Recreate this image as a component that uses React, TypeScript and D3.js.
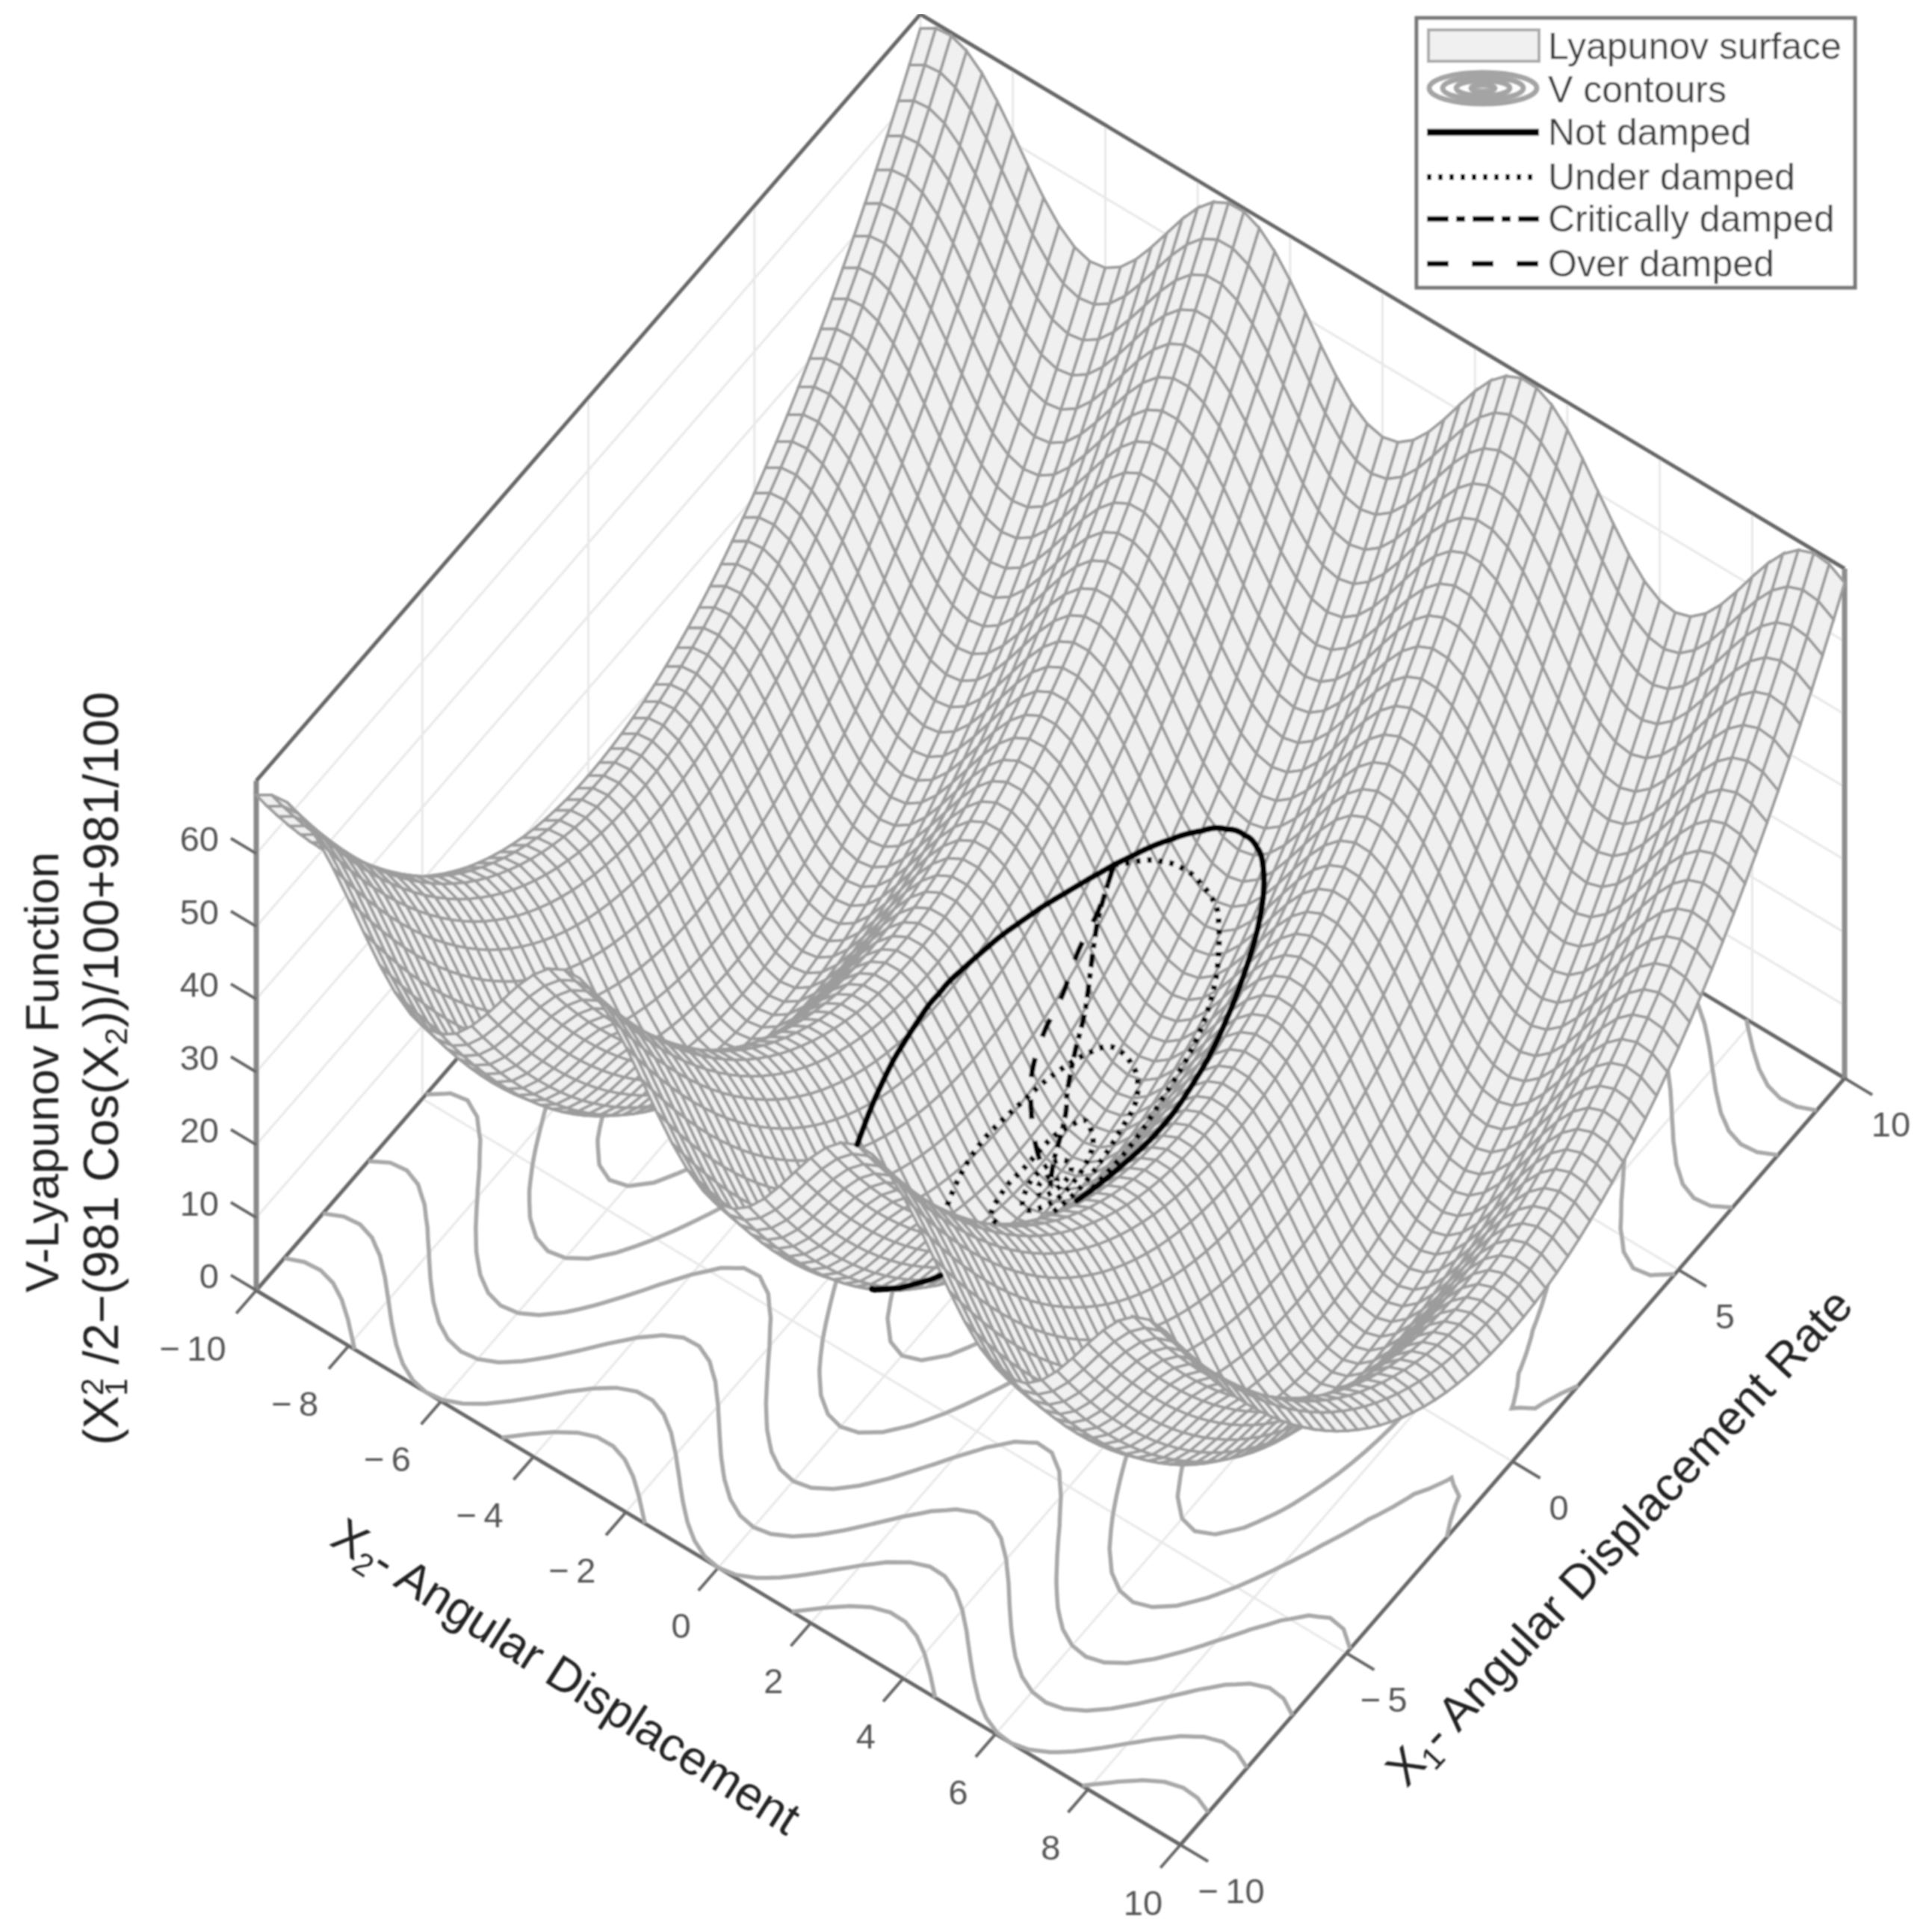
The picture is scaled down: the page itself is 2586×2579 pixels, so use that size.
import React, { useMemo } from "react";
import * as d3 from "d3";

// ---- data ---------------------------------------------------------------
// Height of the surface along X1 (61 mesh lines, -10..10) and along X2 (61 mesh lines, -10..10)
const surfaceAlongX1 = [50,46.72,43.56,40.5,37.56,34.72,32,29.39,26.89,24.5,22.22,20.06,18,16.06,14.22,12.5,10.89,9.39,8,6.72,5.56,4.5,3.56,2.72,2,1.39,0.89,0.5,0.22,0.06,0,0.06,0.22,0.5,0.89,1.39,2,2.72,3.56,4.5,5.56,6.72,8,9.39,10.89,12.5,14.22,16.06,18,20.06,22.22,24.5,26.89,29.39,32,34.72,37.56,40.5,43.56,46.72,50];
const surfaceAlongX2 = [18.04,19.33,19.58,18.75,16.94,14.33,11.24,7.98,4.93,2.41,0.71,0.01,0.39,1.78,4.09,7.03,10.23,13.44,16.22,18.3,19.44,19.52,18.53,16.59,13.89,10.75,7.5,4.51,2.1,0.54,0,0.54,2.1,4.51,7.5,10.75,13.89,16.59,18.53,19.52,19.44,18.3,16.22,13.44,10.23,7.03,4.09,1.78,0.39,0.01,0.71,2.41,4.93,7.98,11.24,14.33,16.94,18.75,19.58,19.33,18.04];
const contourLevels = [10, 20, 30, 40, 50, 60];

const x1Ticks = [-10, -5, 0, 5, 10];
const x2Ticks = [-10, -8, -6, -4, -2, 0, 2, 4, 6, 8, 10];
const zTicks = [0, 10, 20, 30, 40, 50, 60];

const notDampedX1 = [4,4.56,5.02,5.38,5.65,5.8,5.85,5.8,5.65,5.38,5.02,4.56,4,3.32,2.54,1.77,1.21,0.42,0,-0.42,-1.21,-1.77,-2.54,-3.32,-4,-4.56,-5.02,-5.38,-5.65,-5.8,-5.85,-5.8,-5.65,-5.38,-5.02,-4.56,-4,-3.32,-2.54,-1.77,-1.21,-0.42,0,0.42,1.21,1.77,2.54,3.32,4];
const notDampedX2 = [-1.5,-1.25,-1,-0.75,-0.5,-0.25,0,0.25,0.5,0.75,1,1.25,1.5,1.75,2,2.2,2.3,2.4,2.41,2.4,2.3,2.2,2,1.75,1.5,1.25,1,0.75,0.5,0.25,0,-0.25,-0.5,-0.75,-1,-1.25,-1.5,-1.75,-2,-2.2,-2.3,-2.4,-2.41,-2.4,-2.3,-2.2,-2,-1.75,-1.5];

const underDampedX1 = [4,4.65,5,5,4.75,4,3.15,2.4,1.5,0.7,0,-0.9,-1.8,-2.6,-3.1,-3.1,-2.7,-2,-1.2,-0.4,0.53,1.3,2.1,2.5,2.5,2.27,1.83,1.35,0.7,0,-0.7,-1.2,-1.35,-1.3,-0.7,-0.2,0.65,1.2,1.3,1,0.4,-0.2,-0.65,-0.7,-0.35,0,0.4,0.55,0.4,0.1,-0.25,-0.3,-0.12,0.1,0.18,0.08,-0.04,0];
const underDampedX2 = [-1.5,-1.07,-0.6,-0.1,0.23,0.72,1.07,1.25,1.3,1.42,1.45,1.35,1.1,0.7,0.25,-0.2,-0.5,-0.78,-0.98,-1.05,-1,-0.9,-0.68,-0.41,-0.04,0.26,0.5,0.55,0.62,0.65,0.52,0.2,-0.1,-0.35,-0.47,-0.47,-0.44,-0.28,-0.11,0.2,0.35,0.34,0.13,-0.1,-0.25,-0.28,-0.18,0,0.16,0.2,0.1,-0.05,-0.14,-0.1,0,0.07,0.04,0];

const criticalX1 = [4,3.3,2.45,1.9,1.42,1.1,0.42,0];
const criticalX2 = [-1.5,-1.36,-1,-0.83,-0.65,-0.47,-0.22,0];

const overX1 = [4,3.43,2.8,2.15,1.55,0.97,0.55,0.25,0.05,0];
const overX2 = [-1.5,-1.42,-1.4,-1.3,-1.25,-1.1,-0.8,-0.45,-0.05,0];

const legendLabels = ["Lyapunov surface", "V contours", "Not damped", "Under damped", "Critically damped", "Over damped"];

// ---- projection ----------------------------------------------------------
const W = 2586, H = 2579;
const cx = 1406, cy = 1585;
const sx1X = d3.scaleLinear([-10, 10], [-444.5, 444.5]);
const sx1Y = d3.scaleLinear([-10, 10], [513, -513]);
const sx2X = d3.scaleLinear([-10, 10], [-618.5, 618.5]);
const sx2Y = d3.scaleLinear([-10, 10], [-371, 371]);
const szY = d3.scaleLinear([0, 70], [0, -682]);
const gridIdx = d3.scaleLinear([-10, 10], [0, 60]);
const gridVal = d3.scaleLinear([0, 60], [-10, 10]);

const proj = (x1: number, x2: number, z: number): [number, number] => [
  cx + sx1X(x1) + sx2X(x2),
  cy + sx1Y(x1) + sx2Y(x2) + szY(z),
];

const lookup = (arr: number[], v: number) => {
  const t = Math.max(0, Math.min(60, gridIdx(v)));
  const i = Math.min(59, Math.floor(t));
  return arr[i] + (arr[i + 1] - arr[i]) * (t - i);
};
const heightAt = (x1: number, x2: number) => lookup(surfaceAlongX1, x1) + lookup(surfaceAlongX2, x2);

// view ray: screen-constant direction, moving toward the viewer
const ax = sx1X(1) - sx1X(0), bx = sx2X(1) - sx2X(0);
const ay = sx1Y(1) - sx1Y(0), by = sx2Y(1) - sx2Y(0);
const kz = -(szY(1) - szY(0));
const riseRate = (ay * -bx + by * ax) / kz;
const floorLen = Math.hypot(ax, bx);

// a point is hidden when the ray toward the viewer crosses the surface
const isHidden = (x1: number, x2: number, z: number) => {
  const ds = 0.08 / floorLen;
  const first = heightAt(x1 - bx * 2 * ds, x2 + ax * 2 * ds) - (z + riseRate * 2 * ds);
  const startsAbove = first <= 0;
  for (let s = 3 * ds; ; s += ds) {
    const q1 = x1 - bx * s, q2 = x2 + ax * s;
    if (q1 < -10 || q2 > 10) return false;
    const diff = heightAt(q1, q2) - (z + riseRate * s);
    if (startsAbove ? diff > 0.03 : diff < -0.03) return true;
  }
};

// Catmull-Rom sampling of a trajectory, in surface coordinates
const sampleTrack = (xs1: number[], xs2: number[]) => {
  const out: { x: number; y: number; hidden: boolean }[] = [];
  const n = xs1.length;
  const cr = (a: number[], i: number, t: number) => {
    const p0 = a[Math.max(0, i - 1)], p1 = a[i], p2 = a[i + 1], p3 = a[Math.min(n - 1, i + 2)];
    return 0.5 * (2 * p1 + (p2 - p0) * t + (2 * p0 - 5 * p1 + 4 * p2 - p3) * t * t + (3 * p1 - p0 - 3 * p2 + p3) * t * t * t);
  };
  for (let i = 0; i < n - 1; i++) {
    for (let k = 0; k < 12; k++) {
      const t = k / 12;
      const a = cr(xs1, i, t), b = cr(xs2, i, t), z = heightAt(a, b);
      const [x, y] = proj(a, b, z);
      out.push({ x, y, hidden: isHidden(a, b, z) });
    }
  }
  const a = xs1[n - 1], b = xs2[n - 1], z = heightAt(a, b);
  const [x, y] = proj(a, b, z);
  out.push({ x, y, hidden: isHidden(a, b, z) });
  return out;
};

const trackPath = (xs1: number[], xs2: number[], pattern: number[] | null) => {
  const pts = sampleTrack(xs1, xs2);
  let d = "";
  let pi = 0, left = pattern ? pattern[0] : Infinity;
  for (let i = 0; i < pts.length - 1; i++) {
    const p = pts[i], q = pts[i + 1];
    const len = Math.hypot(q.x - p.x, q.y - p.y);
    let pos = 0;
    while (pos < len) {
      const step = Math.min(left, len - pos);
      const on = pi % 2 === 0;
      if (on && !p.hidden && !q.hidden && step > 0) {
        const t0 = pos / len, t1 = (pos + step) / len;
        d += `M${(p.x + (q.x - p.x) * t0).toFixed(1)} ${(p.y + (q.y - p.y) * t0).toFixed(1)}L${(p.x + (q.x - p.x) * t1).toFixed(1)} ${(p.y + (q.y - p.y) * t1).toFixed(1)}`;
      }
      pos += step;
      left -= step;
      if (left <= 1e-6 && pattern) {
        pi = (pi + 1) % pattern.length;
        left = pattern[pi];
      }
    }
  }
  return d;
};

const pathOf = (pts: [number, number][], close = false) =>
  "M" + pts.map((p) => `${p[0].toFixed(1)} ${p[1].toFixed(1)}`).join("L") + (close ? "Z" : "");

const seg = (a: [number, number, number], b: [number, number, number]) => pathOf([proj(...a), proj(...b)]);

const FONT = "'Liberation Sans', Arial, sans-serif";
const tickText = (t: number) => (t < 0 ? `\u2212\u2009${-t}` : `${t}`);

export default function App() {
  const quads = useMemo(() => {
    const out: string[] = [];
    for (let i = 59; i >= 0; i--) {
      for (let j = 0; j < 60; j++) {
        const c: [number, number][] = [
          [i, j], [i + 1, j], [i + 1, j + 1], [i, j + 1],
        ].map(([a, b]) => proj(gridVal(a), gridVal(b), surfaceAlongX1[a] + surfaceAlongX2[b])) as [number, number][];
        out.push(pathOf(c, true));
      }
    }
    return out;
  }, []);

  const contourPath = useMemo(() => {
    const values: number[] = [];
    for (let j = 0; j < 61; j++) for (let i = 0; i < 61; i++) values.push(surfaceAlongX1[j] + surfaceAlongX2[i]);
    const polys = d3.contours().size([61, 61]).thresholds(contourLevels)(values);
    let d = "";
    for (const mp of polys) {
      for (const poly of mp.coordinates) {
        for (const ring of poly) {
          let pen = false;
          for (const pt of ring) {
            const gx = pt[0] - 0.5, gy = pt[1] - 0.5;
            if (gx < -1e-6 || gx > 60 + 1e-6 || gy < -1e-6 || gy > 60 + 1e-6) { pen = false; continue; }
            const [x, y] = proj(gridVal(gy), gridVal(gx), 0);
            d += `${pen ? "L" : "M"}${x.toFixed(1)} ${y.toFixed(1)}`;
            pen = true;
          }
        }
      }
    }
    return d;
  }, []);

  const tracks = useMemo(() => ({
    not: trackPath(notDampedX1, notDampedX2, null),
    under: trackPath(underDampedX1, underDampedX2, [6, 9]),
    crit: trackPath(criticalX1, criticalX2, [18, 8, 7, 8]),
    over: trackPath(overX1, overX2, [26, 30]),
  }), []);

  const gridLines: string[] = [];
  for (const z of zTicks.slice(1)) {
    gridLines.push(seg([-10, -10, z], [10, -10, z]));
    gridLines.push(seg([10, -10, z], [10, 10, z]));
  }
  for (const t of x1Ticks) {
    gridLines.push(seg([t, -10, 0], [t, 10, 0]));
    gridLines.push(seg([t, -10, 0], [t, -10, 70]));
  }
  for (const t of x2Ticks) {
    gridLines.push(seg([-10, t, 0], [10, t, 0]));
    gridLines.push(seg([10, t, 0], [10, t, 70]));
  }

  const edges = [
    seg([-10, -10, 70], [10, -10, 70]),
    seg([10, -10, 70], [10, 10, 70]),
    seg([-10, -10, 0], [10, -10, 0]),
    seg([10, -10, 0], [10, 10, 0]),
    seg([-10, -10, 0], [-10, 10, 0]),
    seg([-10, 10, 0], [10, 10, 0]),
  ];
  const tickMarks = [
    ...x2Ticks.map((t) => seg([-10, t, 0], [-10.6, t, 0])),
    ...x1Ticks.map((t) => seg([t, 10, 0], [t, 10.6, 0])),
    ...zTicks.map((t) => seg([-10, -10, t], [-10, -10.55, t])),
  ];

  const legendY = [62, 120, 177, 237, 293, 353];

  return (
    <svg width={W} height={H} viewBox={`0 0 ${W} ${H}`} style={{ position: "absolute", left: 0, top: 0, background: "#fff" }}>
      <defs>
        <filter id="soft" x="0" y="0" width="100%" height="100%" filterUnits="objectBoundingBox">
          <feGaussianBlur stdDeviation="1.2" />
        </filter>
      </defs>
      <rect width={W} height={H} fill="#fff" />
      <g filter="url(#soft)">
        <path d={gridLines.join("")} fill="none" stroke="#e8e8e8" strokeWidth={3} />
        <path d={edges.join("")} fill="none" stroke="#666" strokeWidth={5} />
        <path d={seg([-10, -10, 0], [-10, -10, 70])} fill="none" stroke="#888" strokeWidth={7} />
        <path d={seg([10, 10, 0], [10, 10, 70])} fill="none" stroke="#8c8c8c" strokeWidth={7} />
        <path d={tickMarks.join("")} fill="none" stroke="#666" strokeWidth={4} />
        <path d={contourPath} fill="none" stroke="#a8a8a8" strokeWidth={5.5} />

        {quads.map((d, i) => (
          <path key={i} d={d} fill="#f0f0f0" stroke="#9c9c9c" strokeWidth={3.8} />
        ))}

        <path d={tracks.not} fill="none" stroke="#000" strokeWidth={8} strokeLinecap="round" />
        <path d={tracks.under} fill="none" stroke="#000" strokeWidth={7.5} />
        <path d={tracks.crit} fill="none" stroke="#000" strokeWidth={7} />
        <path d={tracks.over} fill="none" stroke="#000" strokeWidth={7} />

        <g fontFamily={FONT} fontSize={47} fill="#555">
          {zTicks.map((t) => {
            const [x, y] = proj(-10, -10, t);
            return <text key={"z" + t} x={x - 50} y={y - 3} textAnchor="end">{t}</text>;
          })}
          {x2Ticks.map((t) => {
            const [x, y] = proj(-10, t, 0);
            const off = t < -8 ? -85 : t < 0 ? -72 : -50;
            return <text key={"x2" + t} x={x + off} y={y + 94} textAnchor="middle">{tickText(t)}</text>;
          })}
          {x1Ticks.map((t) => {
            const [x, y] = proj(t, 10, 0);
            const off = t === -5 ? 50 : t === -10 ? 68 : 62;
            return <text key={"x1" + t} x={x + off} y={y + 78} textAnchor="middle">{tickText(t)}</text>;
          })}
        </g>

        <g fontFamily={FONT} fontSize={64} fill="#222">
          <text transform="translate(746,2262) rotate(32.5)" textAnchor="middle">
            X<tspan fontSize={42} dy={12}>2</tspan><tspan dy={-12}>- Angular Displacement</tspan>
          </text>
          <text transform="translate(2183,2072) rotate(-47)" textAnchor="middle">
            X<tspan fontSize={42} dy={12}>1</tspan><tspan dy={-12}>- Angular Displacement Rate</tspan>
          </text>
          <text transform="translate(78,1435) rotate(-90)" textAnchor="middle" fontSize={63}>V-Lyapunov Function</text>
          <text transform="translate(158,1430) rotate(-90)" textAnchor="middle" fontSize={66}>
            (X<tspan fontSize={42} dy={12}>1</tspan><tspan fontSize={42} dy={-32} dx={-23}>2</tspan><tspan dy={20}> /2−(981 Cos(X</tspan><tspan fontSize={42} dy={12}>2</tspan><tspan dy={-12}>))/100+981/100</tspan>
          </text>
        </g>

        <rect x={1896} y={24} width={587} height={361} fill="#fff" stroke="#777" strokeWidth={5} />
        <rect x={1912} y={40} width={148} height={42} fill="#f0f0f0" stroke="#aaa" strokeWidth={4} />
        <g fill="none" stroke="#a4a4a4" strokeWidth={7}>
          <ellipse cx={1985} cy={118} rx={72} ry={21} />
          <ellipse cx={1985} cy={118} rx={54} ry={15} />
          <ellipse cx={1985} cy={118} rx={36} ry={10} />
          <ellipse cx={1985} cy={118} rx={16} ry={4} />
        </g>
        <g stroke="#000" fill="none">
          <line x1={1910} x2={2060} y1={177} y2={177} strokeWidth={9} />
          <line x1={1910} x2={2060} y1={237} y2={237} strokeWidth={8} strokeDasharray="6 9" />
          <line x1={1910} x2={2060} y1={293} y2={293} strokeWidth={7} strokeDasharray="29 10 12 10" />
          <line x1={1910} x2={2060} y1={353} y2={353} strokeWidth={7} strokeDasharray="29 31" />
        </g>
        <g fontFamily={FONT} fontSize={50} fill="#3c3c3c">
          {legendLabels.map((t, i) => (
            <text key={t} x={2072} y={legendY[i] + 17}>{t}</text>
          ))}
        </g>
      </g>
    </svg>
  );
}
